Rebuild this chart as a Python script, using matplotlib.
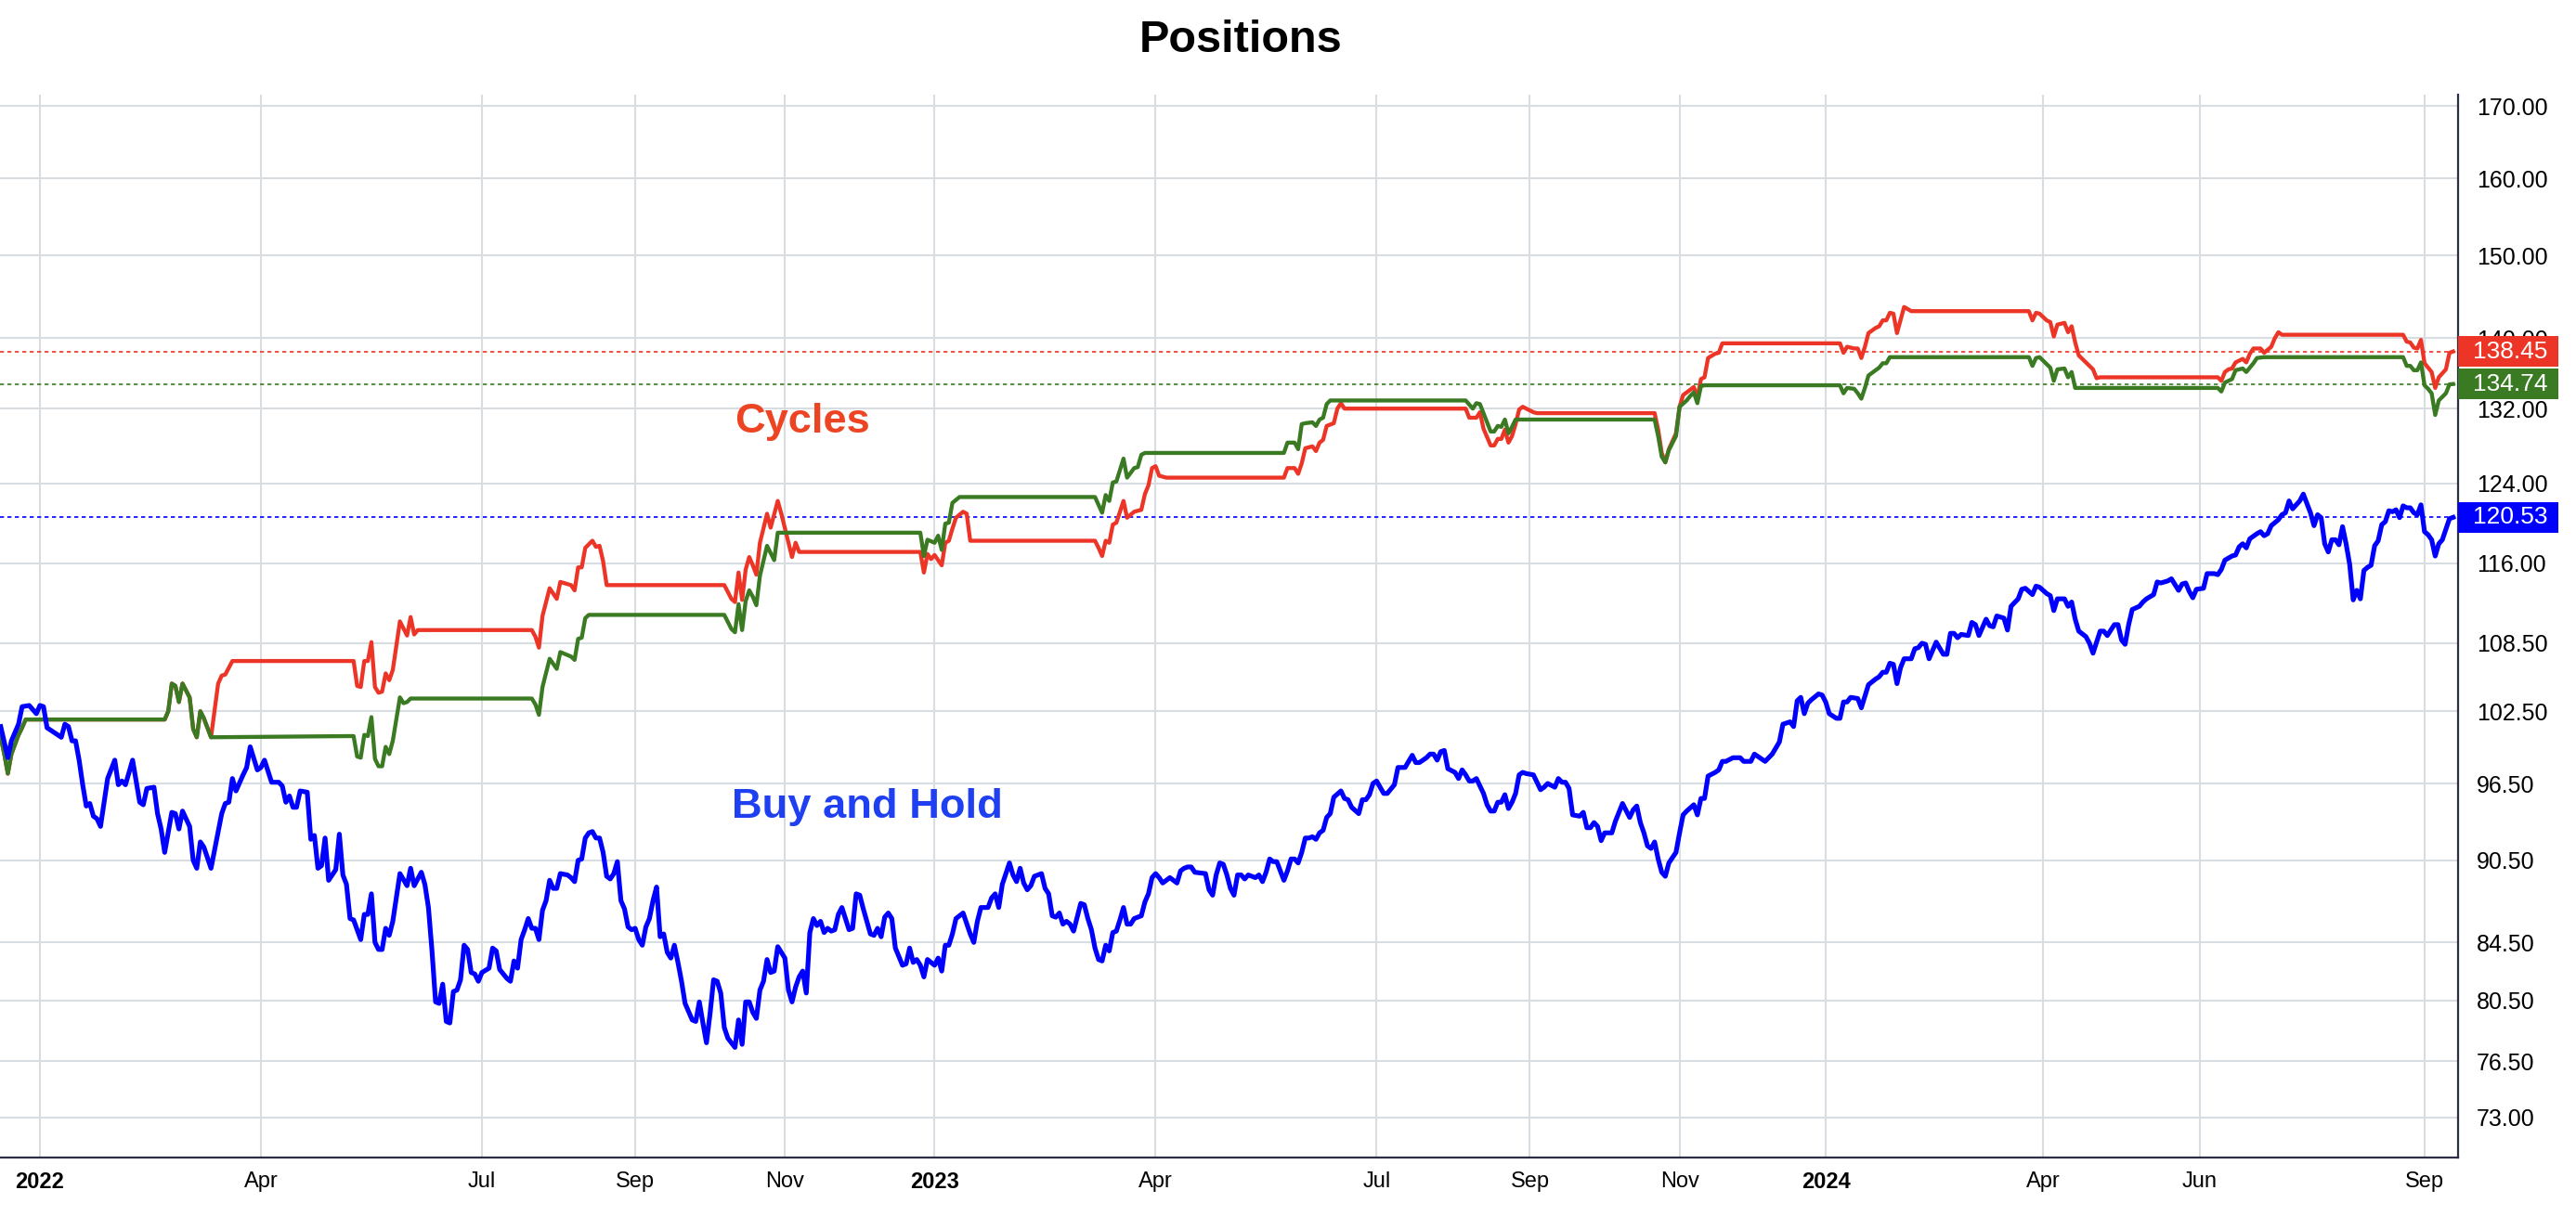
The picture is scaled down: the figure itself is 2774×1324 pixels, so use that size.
import pandas as pd
import matplotlib
matplotlib.use("Agg")
import matplotlib.pyplot as plt
from matplotlib.ticker import FixedLocator, NullLocator, FuncFormatter
from matplotlib.patches import Rectangle
from matplotlib.transforms import IdentityTransform

plt.rcParams['font.family'] = ['Liberation Sans', 'DejaVu Sans']

# x axis is one slot per trading session (NYSE calendar)
holidays = ['2021-12-24', '2022-01-17', '2022-02-21', '2022-04-15', '2022-05-30',
            '2022-06-20', '2022-07-04', '2022-09-05', '2022-11-24', '2022-12-26',
            '2023-01-02', '2023-01-16', '2023-02-20', '2023-04-07', '2023-05-29',
            '2023-06-19', '2023-07-04', '2023-09-04', '2023-11-23', '2023-12-25',
            '2024-01-01', '2024-01-15', '2024-02-19', '2024-03-29', '2024-05-27',
            '2024-06-19', '2024-07-04', '2024-09-02']
sessions = pd.bdate_range('2021-12-16', '2024-09-13')
sessions = sessions[~sessions.isin(pd.to_datetime(holidays))]

tick_months = ['2022-01', '2022-04', '2022-07', '2022-09', '2022-11',
               '2023-01', '2023-04', '2023-07', '2023-09', '2023-11',
               '2024-01', '2024-04', '2024-06', '2024-09']
tick_labels = ['2022', 'Apr', 'Jul', 'Sep', 'Nov', '2023', 'Apr', 'Jul', 'Sep', 'Nov',
               '2024', 'Apr', 'Jun', 'Sep']
y_ticks = [73, 76.5, 80.5, 84.5, 90.5, 96.5, 102.5, 108.5, 116, 124, 132, 140, 150, 160, 170]

# (session number, value) pairs
buy_hold = [
    (0, 101.2), (2, 98.6), (3, 100.0), (5, 101.4), (6, 102.9), (8, 103.0), (10, 102.3), (11, 103.0), (12, 102.9), (13, 101.1),
    (16, 100.5), (17, 100.3), (18, 101.4), (19, 101.2), (20, 100.0), (21, 100.0), (22, 98.4), (23, 96.4), (24, 94.7), (25, 94.9),
    (26, 93.9), (27, 93.7), (28, 93.1), (30, 96.9), (32, 98.4), (33, 96.4), (34, 96.7), (35, 96.4), (37, 98.4), (39, 95.0),
    (40, 94.8), (41, 96.1), (43, 96.2), (44, 94.1), (45, 92.9), (46, 91.1), (48, 94.2), (49, 94.1), (50, 92.9), (51, 94.3),
    (53, 93.1), (54, 90.5), (55, 89.9), (56, 91.9), (57, 91.5), (59, 89.9), (62, 94.1), (63, 94.9), (64, 95.0), (65, 96.9),
    (66, 95.9), (68, 97.2), (69, 97.8), (70, 99.5), (72, 97.6), (73, 97.8), (74, 98.4), (76, 96.6), (78, 96.6), (79, 96.3),
    (80, 95.0), (81, 95.5), (82, 94.6), (83, 94.6), (84, 95.9), (86, 95.8), (87, 92.1), (88, 92.4), (89, 89.9), (90, 90.1),
    (91, 92.2), (92, 89.0), (94, 89.8), (95, 92.5), (96, 89.4), (97, 88.7), (98, 86.2), (99, 86.1), (101, 84.7), (102, 86.5),
    (103, 86.5), (104, 88.0), (105, 84.5), (106, 84.0), (107, 84.0), (108, 85.5), (109, 85.0), (110, 86.0), (112, 89.5), (114, 88.6),
    (115, 89.9), (116, 88.6), (118, 89.6), (119, 88.7), (120, 87.0), (121, 83.9), (122, 80.4), (123, 80.3), (124, 81.6), (125, 79.1),
    (126, 79.0), (127, 81.1), (128, 81.2), (129, 81.9), (130, 84.3), (131, 84.0), (132, 82.4), (133, 82.3), (134, 81.8), (135, 82.4),
    (137, 82.7), (138, 84.1), (139, 83.9), (140, 82.6), (142, 82.0), (143, 81.8), (144, 83.2), (145, 82.7), (146, 84.7), (147, 85.4),
    (148, 86.2), (149, 85.5), (150, 85.5), (151, 84.7), (152, 86.8), (153, 87.5), (154, 89.0), (155, 88.4), (156, 88.4), (157, 89.5),
    (159, 89.4), (160, 89.2), (161, 88.9), (162, 90.5), (163, 90.6), (164, 92.2), (165, 92.6), (166, 92.7), (167, 92.2), (168, 92.2),
    (169, 91.1), (170, 89.3), (171, 89.1), (172, 89.5), (173, 90.4), (174, 87.5), (175, 86.9), (176, 85.6), (177, 85.4), (178, 85.5),
    (179, 84.7), (180, 84.3), (181, 85.6), (182, 86.2), (183, 87.5), (184, 88.5), (185, 84.9), (186, 85.1), (187, 83.8), (188, 83.4),
    (189, 84.3), (190, 83.1), (191, 81.8), (192, 80.3), (194, 79.2), (195, 79.1), (196, 80.4), (197, 79.0), (198, 77.7), (199, 79.6),
    (200, 81.9), (201, 81.8), (202, 81.0), (203, 78.7), (204, 78.0), (206, 77.4), (207, 79.2), (208, 77.6), (209, 80.4), (210, 80.4),
    (211, 79.7), (212, 79.3), (213, 81.2), (214, 81.8), (215, 83.3), (216, 82.4), (217, 82.5), (218, 84.2), (220, 83.4), (221, 81.2),
    (222, 80.4), (223, 81.4), (224, 82.1), (225, 82.5), (226, 81.0), (227, 85.2), (228, 86.2), (229, 85.7), (230, 86.0), (231, 85.2),
    (232, 85.5), (233, 85.3), (234, 85.4), (235, 86.5), (236, 87.0), (238, 85.4), (239, 85.5), (240, 88.0), (241, 87.9), (242, 86.9),
    (244, 85.1), (245, 85.0), (246, 85.5), (247, 84.9), (248, 86.3), (249, 86.6), (250, 86.2), (251, 84.1), (252, 83.5), (253, 82.9),
    (254, 83.0), (255, 84.1), (256, 83.1), (257, 83.3), (258, 82.9), (259, 82.1), (260, 83.3), (261, 83.1), (262, 82.9), (263, 83.4),
    (264, 82.5), (265, 84.3), (266, 84.3), (267, 85.1), (268, 86.2), (269, 86.4), (270, 86.6), (272, 85.1), (273, 84.5), (274, 86.0),
    (275, 87.0), (277, 87.0), (278, 87.7), (279, 88.0), (280, 87.0), (281, 88.7), (283, 90.3), (284, 89.4), (285, 88.9), (286, 89.9),
    (287, 88.8), (288, 88.3), (289, 88.6), (290, 89.3), (292, 89.5), (293, 88.4), (294, 88.0), (295, 86.4), (296, 86.3), (297, 86.6),
    (298, 85.8), (299, 86.0), (300, 85.8), (301, 85.3), (303, 87.3), (304, 87.2), (305, 86.2), (306, 85.4), (307, 84.1), (308, 83.3),
    (309, 83.2), (310, 84.3), (311, 83.9), (312, 85.2), (313, 85.3), (314, 86.1), (315, 87.0), (316, 85.8), (317, 85.8), (318, 86.2),
    (320, 86.4), (321, 87.4), (322, 88.0), (323, 89.2), (324, 89.5), (325, 89.2), (326, 88.8), (327, 89.0), (328, 89.2), (330, 88.8),
    (331, 89.7), (332, 89.9), (333, 90.0), (334, 90.0), (335, 89.6), (338, 89.5), (339, 88.3), (340, 87.9), (341, 89.4), (342, 90.3),
    (343, 90.2), (344, 89.4), (345, 88.4), (346, 87.9), (347, 89.4), (348, 89.4), (349, 89.1), (350, 89.4), (351, 89.3), (352, 89.2),
    (353, 89.4), (354, 88.9), (355, 89.6), (356, 90.6), (357, 90.4), (358, 90.4), (359, 89.7), (360, 89.0), (361, 89.7), (362, 90.6),
    (363, 90.6), (364, 90.3), (365, 91.1), (366, 92.2), (367, 92.2), (368, 92.3), (369, 92.1), (370, 92.6), (371, 92.8), (372, 93.8),
    (373, 94.1), (374, 95.4), (376, 95.9), (377, 95.3), (378, 95.2), (379, 94.6), (381, 94.1), (382, 95.2), (383, 95.2), (384, 95.6),
    (385, 96.5), (386, 96.7), (387, 96.2), (388, 95.7), (389, 95.7), (391, 96.4), (392, 97.8), (394, 97.8), (395, 98.3), (396, 98.8),
    (397, 98.2), (398, 98.2), (400, 98.6), (401, 98.9), (402, 98.9), (403, 98.4), (404, 99.1), (405, 99.2), (406, 97.7), (408, 97.4),
    (409, 96.9), (410, 97.6), (411, 97.2), (412, 96.7), (413, 96.7), (414, 96.9), (416, 95.7), (417, 94.8), (418, 94.3), (419, 94.3),
    (420, 95.0), (421, 95.0), (422, 95.6), (423, 94.5), (424, 95.0), (425, 95.7), (426, 97.2), (427, 97.4), (428, 97.3), (430, 97.2),
    (431, 96.6), (432, 96.0), (433, 96.2), (434, 96.5), (436, 96.2), (437, 96.9), (438, 96.6), (439, 96.6), (440, 96.1), (441, 94.0),
    (443, 93.9), (444, 94.2), (445, 93.0), (446, 93.0), (447, 93.4), (448, 93.1), (449, 92.0), (450, 92.6), (452, 92.6), (453, 93.5),
    (454, 94.2), (455, 94.9), (457, 93.8), (458, 94.4), (459, 94.7), (460, 93.4), (461, 92.6), (462, 91.6), (463, 91.4), (464, 91.9),
    (465, 90.6), (466, 89.6), (467, 89.3), (468, 90.3), (470, 91.1), (471, 92.6), (472, 94.0), (473, 94.3), (475, 94.8), (476, 94.0),
    (477, 95.3), (478, 95.3), (479, 97.1), (481, 97.4), (482, 97.6), (483, 98.3), (484, 98.3), (486, 98.6), (488, 98.6), (489, 98.3),
    (491, 98.3), (492, 98.9), (494, 98.5), (495, 98.3), (497, 98.9), (499, 99.9), (500, 101.4), (502, 101.6), (503, 101.2), (504, 103.4),
    (505, 103.7), (506, 102.3), (507, 103.2), (508, 103.5), (510, 104.0), (511, 103.9), (512, 103.3), (513, 102.3), (515, 101.9), (516, 101.9),
    (517, 103.3), (518, 103.3), (519, 103.7), (521, 103.6), (522, 102.8), (524, 104.8), (526, 105.3), (527, 105.5), (528, 105.9), (529, 105.9),
    (530, 106.7), (531, 106.6), (532, 104.9), (533, 106.3), (534, 107.1), (536, 107.1), (537, 108.0), (538, 108.1), (539, 108.5), (540, 108.4),
    (541, 107.1), (543, 108.6), (545, 107.5), (546, 107.5), (547, 109.4), (548, 109.4), (549, 109.0), (550, 109.3), (552, 109.2), (553, 110.4),
    (554, 110.2), (555, 109.2), (557, 110.7), (558, 110.1), (559, 110.0), (560, 111.0), (562, 110.8), (563, 109.7), (564, 111.9), (566, 112.6),
    (567, 113.5), (568, 113.6), (570, 113.0), (571, 113.8), (572, 113.7), (573, 113.4), (574, 113.1), (575, 112.9), (576, 111.5), (577, 112.6),
    (579, 112.6), (580, 111.9), (581, 112.3), (582, 110.7), (583, 109.6), (585, 109.1), (586, 108.5), (587, 107.6), (588, 108.6), (589, 109.6),
    (590, 109.6), (591, 109.2), (593, 110.2), (594, 110.2), (595, 108.8), (596, 108.4), (597, 110.2), (598, 111.6), (600, 111.9), (601, 112.3),
    (602, 112.6), (604, 113.0), (605, 114.2), (606, 114.1), (608, 114.3), (609, 114.5), (611, 113.4), (612, 114.0), (613, 114.1), (614, 113.3),
    (615, 112.7), (616, 113.5), (618, 113.6), (619, 115.0), (621, 115.0), (622, 114.9), (623, 115.4), (624, 116.3), (626, 116.7), (627, 116.8),
    (628, 117.6), (629, 117.9), (630, 117.5), (631, 118.4), (633, 118.9), (634, 119.1), (635, 118.7), (636, 118.9), (637, 119.7), (639, 120.3),
    (640, 120.8), (641, 121.0), (642, 122.2), (643, 121.4), (645, 122.2), (646, 122.9), (648, 121.0), (649, 119.7), (650, 120.8), (651, 120.5),
    (652, 117.9), (653, 117.1), (654, 118.3), (655, 118.3), (656, 117.8), (657, 119.6), (658, 117.9), (659, 115.9), (660, 112.5), (661, 113.4),
    (662, 112.6), (663, 115.3), (664, 115.6), (665, 115.8), (666, 117.7), (667, 118.2), (668, 119.8), (669, 120.1), (670, 121.2), (671, 121.1),
    (672, 121.3), (673, 120.5), (674, 121.7), (675, 121.5), (676, 121.5), (677, 121.0), (678, 120.8), (679, 121.8), (680, 119.1), (681, 118.8),
    (682, 118.3), (683, 116.7), (684, 117.9), (685, 118.3), (687, 120.4), (688, 120.53),
]

cycles_red = [
    (0, 100.3), (1, 98.9), (2, 97.3), (3, 98.9), (5, 100.5), (6, 101.1), (7, 101.8), (46, 101.8), (47, 102.5), (48, 104.9),
    (49, 104.7), (50, 103.3), (51, 104.9), (53, 103.7), (54, 101.0), (55, 100.3), (56, 102.5), (57, 101.9), (59, 100.3), (61, 104.9),
    (62, 105.6), (63, 105.7), (65, 106.9), (99, 106.9), (100, 104.7), (101, 104.6), (102, 106.9), (103, 106.9), (104, 108.6), (105, 104.6),
    (106, 104.1), (107, 104.2), (108, 105.8), (109, 105.2), (110, 106.1), (112, 110.5), (114, 109.2), (115, 110.9), (116, 109.3), (117, 109.7),
    (149, 109.7), (150, 109.1), (151, 108.1), (152, 111.0), (154, 113.6), (156, 112.6), (157, 114.2), (160, 113.9), (161, 113.4), (162, 115.6),
    (163, 115.6), (164, 117.5), (166, 118.2), (167, 117.6), (168, 117.7), (169, 116.2), (170, 113.9), (203, 113.9), (205, 112.6), (206, 112.3),
    (207, 115.1), (208, 112.5), (209, 115.4), (210, 116.6), (211, 115.8), (212, 114.9), (213, 118.0), (215, 120.9), (216, 119.5), (218, 122.2),
    (219, 120.9), (221, 118.0), (222, 116.6), (223, 118.0), (224, 117.1), (258, 117.1), (259, 115.1), (260, 116.9), (261, 116.4), (262, 116.8),
    (264, 115.8), (265, 118.0), (266, 118.2), (267, 119.4), (268, 120.5), (270, 121.1), (271, 120.9), (272, 118.2), (307, 118.2), (308, 117.5),
    (309, 116.7), (310, 118.2), (311, 118.0), (312, 119.8), (313, 120.0), (315, 122.2), (316, 120.5), (318, 121.1), (320, 121.3), (321, 122.9),
    (322, 123.8), (323, 125.6), (324, 125.8), (325, 124.8), (327, 124.6), (360, 124.6), (361, 125.6), (363, 125.6), (364, 125.0), (365, 126.1),
    (366, 127.7), (368, 127.9), (369, 127.4), (370, 128.3), (371, 128.6), (372, 130.1), (374, 130.4), (375, 132.0), (376, 132.6), (377, 132.0),
    (411, 132.0), (412, 131.0), (414, 131.0), (415, 131.6), (416, 129.8), (418, 128.0), (419, 128.0), (420, 128.7), (421, 128.7), (422, 129.7),
    (423, 128.3), (424, 129.0), (425, 130.3), (426, 131.9), (427, 132.2), (428, 132.0), (430, 131.6), (431, 131.5), (464, 131.5), (465, 129.7),
    (466, 127.2), (467, 126.2), (468, 127.6), (470, 129.3), (471, 132.2), (472, 133.5), (474, 134.1), (475, 134.4), (476, 133.2), (477, 135.3),
    (478, 135.5), (479, 137.7), (481, 138.2), (482, 138.3), (483, 139.4), (516, 139.4), (517, 138.3), (518, 139.0), (520, 138.8), (521, 138.8),
    (522, 137.7), (523, 139.0), (524, 140.6), (526, 141.2), (527, 141.4), (528, 142.1), (529, 142.1), (530, 143.0), (531, 142.9), (532, 140.6),
    (534, 143.7), (536, 143.2), (569, 143.2), (570, 142.1), (571, 143.0), (572, 142.9), (574, 142.1), (575, 141.9), (576, 140.2), (577, 141.6),
    (579, 141.8), (580, 140.7), (581, 141.4), (582, 139.5), (583, 138.0), (584, 137.6), (586, 136.8), (587, 136.4), (588, 135.4), (589, 135.5),
    (622, 135.5), (623, 135.1), (624, 136.1), (625, 136.4), (626, 136.5), (627, 137.2), (629, 137.6), (630, 137.2), (631, 138.2), (632, 138.8),
    (634, 138.8), (635, 138.3), (637, 139.0), (638, 140.0), (639, 140.7), (640, 140.4), (674, 140.4), (675, 139.6), (676, 139.5), (677, 138.9),
    (678, 138.8), (679, 139.8), (680, 137.1), (681, 136.6), (682, 136.1), (683, 134.3), (684, 135.5), (686, 136.4), (687, 138.3), (688, 138.45),
]

cycles_green = [
    (0, 100.3), (1, 98.9), (2, 97.3), (3, 98.9), (5, 100.5), (6, 101.1), (7, 101.8), (46, 101.8), (47, 102.5), (48, 104.9),
    (49, 104.7), (50, 103.3), (51, 104.9), (53, 103.7), (54, 101.0), (55, 100.3), (56, 102.5), (57, 101.9), (59, 100.3), (99, 100.4),
    (100, 98.7), (101, 98.6), (102, 100.5), (103, 100.4), (104, 102.0), (105, 98.5), (106, 97.9), (107, 97.9), (108, 99.5), (109, 98.9),
    (110, 100.0), (112, 103.7), (113, 103.2), (114, 103.3), (115, 103.6), (149, 103.6), (150, 103.1), (151, 102.2), (152, 104.6), (154, 107.1),
    (156, 106.2), (157, 107.7), (160, 107.3), (161, 107.0), (162, 108.9), (163, 109.0), (164, 110.8), (165, 111.1), (203, 111.1), (205, 109.8),
    (206, 109.5), (207, 112.1), (208, 109.7), (209, 112.4), (210, 113.4), (211, 112.8), (212, 112.0), (213, 114.8), (215, 117.7), (217, 116.3),
    (218, 119.0), (258, 119.0), (259, 116.7), (260, 118.3), (262, 118.0), (263, 118.7), (264, 117.3), (265, 119.9), (266, 120.0), (267, 122.0),
    (269, 122.6), (307, 122.6), (309, 121.0), (310, 122.8), (311, 122.2), (312, 124.1), (313, 124.2), (315, 126.6), (316, 124.6), (318, 125.6),
    (319, 125.7), (320, 127.0), (321, 127.2), (360, 127.2), (361, 128.3), (363, 128.3), (364, 127.6), (365, 130.3), (366, 130.4), (368, 130.5),
    (369, 130.1), (370, 130.8), (371, 131.0), (372, 132.5), (373, 132.9), (411, 132.9), (413, 132.0), (414, 132.6), (415, 132.5), (418, 129.5),
    (419, 129.5), (420, 130.1), (421, 130.0), (422, 130.8), (423, 129.3), (424, 130.0), (425, 130.8), (426, 130.8), (464, 130.8), (465, 129.0),
    (466, 126.8), (467, 126.2), (468, 127.5), (470, 129.0), (471, 132.2), (473, 132.9), (474, 133.4), (475, 133.8), (476, 132.6), (477, 134.5),
    (478, 134.6), (516, 134.6), (517, 133.7), (518, 134.3), (520, 134.2), (521, 133.7), (522, 133.1), (523, 134.3), (524, 135.7), (526, 136.3),
    (527, 136.6), (528, 137.1), (529, 137.1), (530, 137.8), (569, 137.8), (570, 136.8), (571, 137.7), (572, 137.8), (574, 137.0), (575, 136.6),
    (576, 135.1), (577, 136.4), (579, 136.5), (580, 135.5), (581, 136.1), (582, 134.3), (622, 134.3), (623, 133.9), (624, 134.9), (626, 135.3),
    (627, 136.3), (629, 136.5), (630, 136.1), (632, 137.1), (633, 137.7), (635, 137.8), (674, 137.8), (675, 136.8), (676, 136.8), (677, 136.3),
    (678, 136.3), (679, 137.2), (680, 134.6), (681, 134.2), (682, 133.7), (683, 131.3), (684, 132.9), (686, 133.7), (687, 134.7), (688, 134.74),
]

RED = '#EC3526'
GREEN = '#3A7A22'
BLUE = '#0000FF'
GRID = '#D8DDE1'
SPINE = '#2B2E45'

fig = plt.figure(figsize=(13.87, 6.62), dpi=200)
ax = fig.add_axes([0.0, 0.0582, 0.9542, 0.8648])

# last value dotted lines
for pts, c in [(cycles_red, RED), (cycles_green, GREEN), (buy_hold, BLUE)]:
    ax.axhline(pts[-1][1], color=c, lw=0.6, ls=(0, (2.6, 2.2)), zorder=1)

for pts, c, lw in [(cycles_red, RED, 1.55), (cycles_green, GREEN, 1.55), (buy_hold, BLUE, 1.85)]:
    xs, ys = zip(*pts)
    ax.plot(xs, ys, color=c, lw=lw, solid_joinstyle='round', zorder=3)

ax.set_yscale('log')
ax.set_ylim(70.6, 171.6)
ax.set_xlim(-0.2, 689.4)

ax.yaxis.set_major_locator(FixedLocator(y_ticks))
ax.yaxis.set_minor_locator(NullLocator())
ax.yaxis.set_major_formatter(FuncFormatter(lambda v, p: f'{v:.2f}'))
ax.yaxis.tick_right()

tick_pos = [sessions.searchsorted(pd.Timestamp(m + '-01')) for m in tick_months]
ax.set_xticks(tick_pos)
ax.set_xticklabels(tick_labels)
for lab in ax.get_xticklabels():
    if lab.get_text().isdigit():
        lab.set_fontweight('bold')

ax.tick_params(axis='y', length=0, pad=7.2, labelsize=9, colors='black')
ax.tick_params(axis='x', length=0, pad=5.5, labelsize=8.5, colors='black')
ax.grid(True, color=GRID, lw=0.75)
ax.set_axisbelow(True)

for s in ['left', 'top']:
    ax.spines[s].set_visible(False)
for s in ['bottom', 'right']:
    ax.spines[s].set_color(SPINE)
    ax.spines[s].set_linewidth(0.8)

# series names inside the plot
ax.text(225, 130.5, 'Cycles', color='#ED4424', fontsize=16.3, fontweight='bold',
        ha='center', va='center')
ax.text(243, 94.6, 'Buy and Hold', color='#1E40F0', fontsize=16.3, fontweight='bold',
        ha='center', va='center')

fig.text(0.4816, 0.9668, 'Positions', ha='center', va='center', fontsize=17.5, fontweight='bold')

# last value badges on the price scale
x_right = ax.bbox.x1
for pts, c in [(cycles_red, RED), (cycles_green, GREEN), (buy_hold, BLUE)]:
    v = pts[-1][1]
    y_px = ax.transData.transform((0, v))[1]
    fig.add_artist(Rectangle((x_right, y_px - 16.5), 108, 33, transform=IdentityTransform(),
                             facecolor=c, edgecolor='none', zorder=5))
    fig.text(x_right + 56, y_px, f'{v:.2f}', transform=IdentityTransform(), color='white',
             fontsize=9.5, ha='center', va='center', zorder=6)

fig.savefig('out.png', dpi=200, facecolor='white')
